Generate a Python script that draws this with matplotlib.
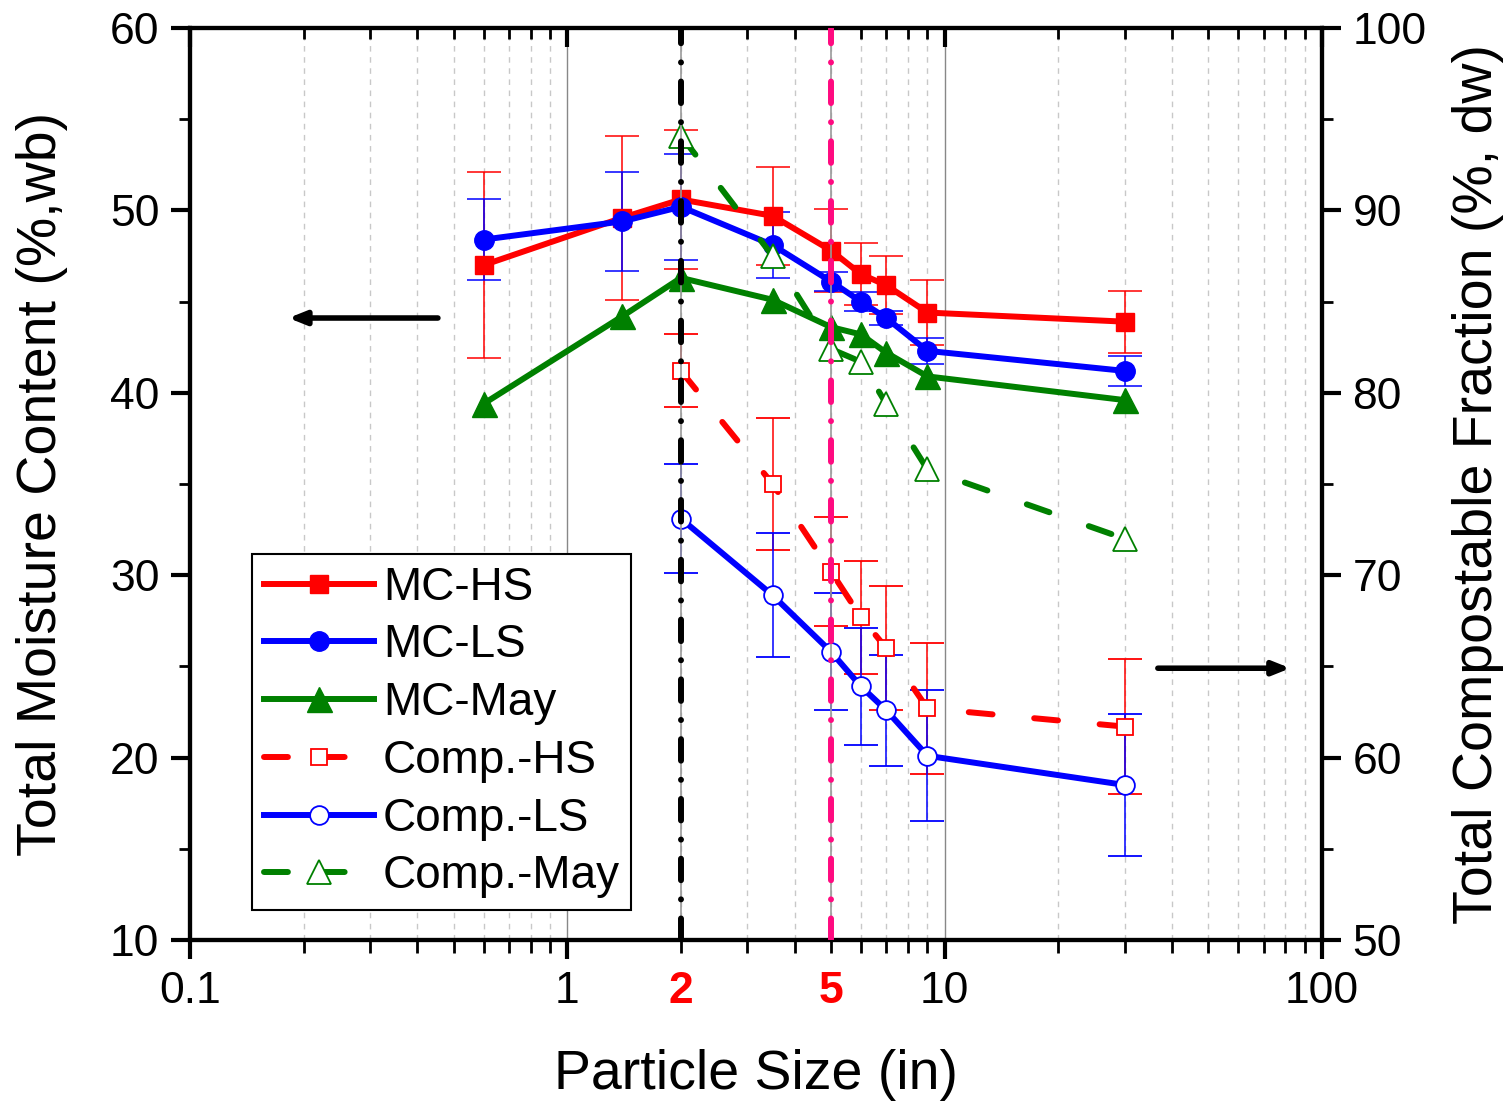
import matplotlib
matplotlib.use('Agg')
import matplotlib.pyplot as plt
from matplotlib.lines import Line2D
import numpy as np

plt.rcParams['font.family'] = ['Liberation Sans', 'DejaVu Sans']

# particle size (in)
size_mc = [0.6, 1.4, 2, 3.5, 5, 6, 7, 9, 30]
size_comp = [2, 3.5, 5, 6, 7, 9, 30]

# total moisture content (%, wb)
mc_hs = [47.0, 49.6, 50.6, 49.7, 47.8, 46.5, 45.9, 44.4, 43.9]
mc_hs_err = [5.1, 4.5, 3.8, 2.7, 2.3, 1.7, 1.6, 1.8, 1.7]
mc_ls = [48.4, 49.4, 50.2, 48.1, 46.1, 45.0, 44.1, 42.3, 41.2]
mc_ls_err = [2.2, 2.7, 2.9, 1.8, 0.5, 0.5, 0.4, 0.7, 0.8]
mc_may = [39.4, 44.2, 46.3, 45.1, 43.6, 43.2, 42.2, 40.9, 39.6]

# total compostable fraction (%, dw)
comp_hs = [81.2, 75.0, 70.2, 67.7, 66.0, 62.7, 61.7]
comp_hs_err = [2.0, 3.6, 3.0, 3.1, 3.4, 3.6, 3.7]
comp_ls = [73.1, 68.9, 65.8, 63.9, 62.6, 60.1, 58.5]
comp_ls_err = [3.0, 3.4, 3.2, 3.2, 3.05, 3.6, 3.9]
comp_may = [94.1, 87.5, 82.4, 81.7, 79.4, 75.8, 72.0]

ref_sizes = [2, 5]
ref_colors = ['black', '#FF0A80']

RED, BLUE, GREEN = '#FF0000', '#0000FF', '#008000'
LW = 4.3
DASH = (4, 7)

fig = plt.figure(figsize=(15.1, 11.06), dpi=100)
ax = fig.add_axes([190/1510, 1-940/1106, 1132/1510, 912/1106])
ax2 = ax.twinx()

ax.set_xscale('log')
ax.set_xlim(0.1, 100)
ax.set_ylim(10, 60)
ax2.set_ylim(50, 100)

# grid
for v in [1, 10]:
    ax.axvline(v, color='#888888', lw=1.0, zorder=0)
minor_pos = [m * 10.0**e for e in range(-1, 2) for m in range(2, 10)]
for v in minor_pos:
    ax.axvline(v, color='#c8c8c8', lw=1.0, ls=(0, (4, 4)), zorder=0)

eb_kw = dict(elinewidth=1.1, capsize=12, capthick=1.1)

# MC series (left axis)
ax.errorbar(size_mc, mc_hs, yerr=mc_hs_err, color=RED, ecolor=RED, lw=LW, marker='s',
            ms=12.5, solid_capstyle='round', **eb_kw)
ax.errorbar(size_mc, mc_ls, yerr=mc_ls_err, color=BLUE, ecolor=BLUE, lw=LW, marker='o',
            ms=14, solid_capstyle='round', **eb_kw)
ax.plot(size_mc, mc_may, color=GREEN, lw=LW, marker='^', ms=18, solid_capstyle='round')

# compostable series (right axis)
l, c, b = ax2.errorbar(size_comp, comp_hs, yerr=comp_hs_err, color=RED, ecolor=RED, lw=LW,
                       marker='s', ms=11.5, mfc='white', mec=RED, mew=1.3, **eb_kw)
l.set_dashes(DASH)
l.set_dash_capstyle('round')
ax2.errorbar(size_comp, comp_ls, yerr=comp_ls_err, color=BLUE, ecolor=BLUE, lw=LW,
             marker='o', ms=13.5, mfc='white', mec=BLUE, mew=1.3,
             solid_capstyle='round', **eb_kw)
l2, = ax2.plot(size_comp, comp_may, color=GREEN, lw=LW, marker='^', ms=17,
               mfc='white', mec=GREEN, mew=1.3)
l2.set_dashes(DASH)
l2.set_dash_capstyle('round')

# reference lines at 2 and 5 in
for v, col in zip(ref_sizes, ref_colors):
    ax2.axvline(v, color='#999999', lw=1.2, zorder=5)
    rl = ax2.axvline(v, color=col, lw=4.3, zorder=6)
    rl.set_dashes((3.6, 3.2, 0.01, 3.2))
    rl.set_dash_capstyle('round')

# ticks
ax.set_xticks([0.1, 1, 10, 100], labels=['0.1', '1', '10', '100'])
ax.set_xticks(minor_pos, minor=True,
              labels=[str(int(v)) if v in ref_sizes else '' for v in minor_pos])
for t in ax.xaxis.get_minorticklabels():
    t.set_color('#FF0000')
    t.set_fontweight('bold')
ax.set_yticks(np.arange(10, 61, 10))
ax.set_yticks(np.arange(15, 60, 10), minor=True)
ax2.set_yticks(np.arange(50, 101, 10))
ax2.set_yticks(np.arange(55, 100, 10), minor=True)

ax.tick_params(axis='x', which='major', direction='out', length=14, width=3, labelsize=32, pad=8)
ax.tick_params(axis='x', which='minor', direction='out', length=9, width=2, labelsize=32, pad=13)
ax.tick_params(axis='y', which='major', direction='out', length=14, width=3, labelsize=32, pad=8)
ax.tick_params(axis='y', which='minor', direction='out', length=8, width=2)
ax2.tick_params(axis='y', which='major', direction='out', length=14, width=3, labelsize=32, pad=8)
ax2.tick_params(axis='y', which='minor', direction='out', length=8, width=2)

ax2.xaxis.set_visible(True)
ax2.tick_params(axis='x', which='both', bottom=False, top=True, labelbottom=False,
                labeltop=False, direction='in')
ax2.tick_params(axis='x', which='major', length=14, width=3)
ax2.tick_params(axis='x', which='minor', length=8, width=2)

for a in (ax, ax2):
    for s in a.spines.values():
        s.set_linewidth(3)

ax.set_xlabel('Particle Size (in)', fontsize=40, labelpad=27)
ax.set_ylabel('Total Moisture Content (%,wb)', fontsize=40, labelpad=30)
ax2.set_ylabel('Total Compostable Fraction (%, dw)', fontsize=40, labelpad=18)

# arrows
arr = dict(arrowstyle='-|>,head_length=1.0,head_width=0.4', lw=4, color='black',
           shrinkA=0, shrinkB=0)
ax2.annotate('', xy=(0.087, 0.682), xytext=(0.219, 0.682), xycoords='axes fraction',
             arrowprops=arr, zorder=7)
ax2.annotate('', xy=(0.972, 0.298), xytext=(0.855, 0.298), xycoords='axes fraction',
             arrowprops=arr, zorder=7)

# legend
handles = [
    Line2D([], [], color=RED, lw=LW, marker='s', ms=12.5),
    Line2D([], [], color=BLUE, lw=LW, marker='o', ms=14),
    Line2D([], [], color=GREEN, lw=LW, marker='^', ms=18),
    Line2D([], [], color=RED, lw=LW, marker='s', ms=11.5, mfc='white', mew=1.3,
           dashes=(4, 5.5), dash_capstyle='round'),
    Line2D([], [], color=BLUE, lw=LW, marker='o', ms=13.5, mfc='white', mew=1.3),
    Line2D([], [], color=GREEN, lw=LW, marker='^', ms=17, mfc='white', mew=1.3,
           dashes=(4, 5.5), dash_capstyle='round'),
]
labels = ['MC-HS', 'MC-LS', 'MC-May', 'Comp.-HS', 'Comp.-LS', 'Comp.-May']
leg = ax2.legend(handles, labels, loc='lower left', bbox_to_anchor=(0.055, 0.033),
                 fontsize=33, frameon=True, fancybox=False, edgecolor='black',
                 framealpha=1, handlelength=2.4, handletextpad=0.2, labelspacing=0.3,
                 borderpad=0.25, borderaxespad=0)
leg.get_frame().set_linewidth(1.5)
leg.set_zorder(10)

fig.savefig('out.png', dpi=100)
